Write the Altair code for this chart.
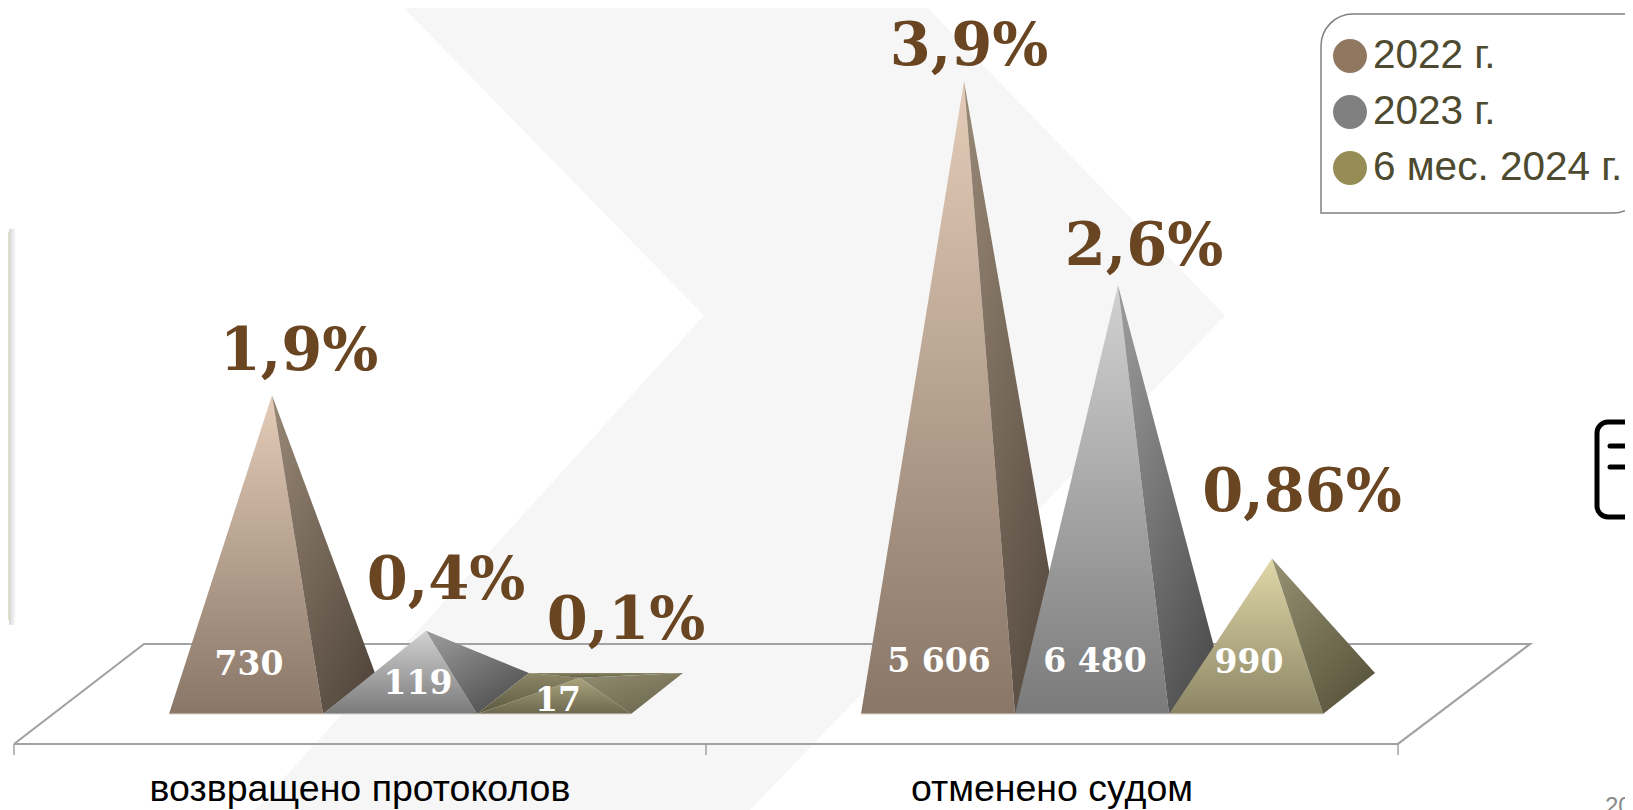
import altair as alt
import pandas as pd

# ---- data
categories = ["возвращено протоколов", "отменено судом"]
series = ["2022 г.", "2023 г.", "6 мес. 2024 г."]
percent_by_category = [[1.9, 0.4, 0.1], [3.9, 2.6, 0.86]]
percent_labels = [["1,9%", "0,4%", "0,1%"], ["3,9%", "2,6%", "0,86%"]]
count_labels = [["730", "119", "17"], ["5 606", "6 480", "990"]]
page_number = "20"

# ---- styling / layout
W, H = 1617, 802
PX_PER_UNIT = 157
Y0 = 693.5
def Y(px):
    return (Y0 - px) / PX_PER_UNIT

xs = alt.Scale(domain=[8, 1625], nice=False, zero=False)
ys = alt.Scale(domain=[Y(810), Y(8)], nice=False, zero=False)
X_ = lambda f="x": alt.X(f"{f}:Q", scale=xs, axis=None, title=None)
Y_ = lambda f="y": alt.Y(f"{f}:Q", scale=ys, axis=None, title=None)

group_left = [169, 861]
pyr_w = 154
dep_x, dep_y = 52, 20.5 / PX_PER_UNIT
pct_col = "#694522"

left_cols = {0: ("#e4ccb8", "#897667"), 1: ("#d2d2d2", "#7a7a7a"), 2: ("#e0d8a8", "#8b8565")}
right_cols = {0: ("#948472", "#52463c"), 1: ("#989898", "#4a4a4a"), 2: ("#928d6e", "#56523a")}
flat_left = ("#aaa47e", "#6c684e")
flat_right = ("#8f8a6c", "#6a664e")
flat_back = ("#8c8766", "#5c5840")

def grad(cols, diag=False):
    return alt.Gradient(
        gradient="linear",
        stops=[alt.GradientStop(color=cols[0], offset=0), alt.GradientStop(color=cols[1], offset=1)],
        x1=0.15 if diag else 0, y1=0, x2=0.85 if diag else 0, y2=1,
    )

def tri_rows(a, b, c):
    p = sorted([a, b, c])
    (x0, y0), (x1, y1), (x2, y2) = p
    on_long = y0 + (y2 - y0) * (x1 - x0) / (x2 - x0)
    return pd.DataFrame({"x": [x0, x1, x2], "y": [y0, y1, y2], "y2": [y0, on_long, y2]})

def face(a, b, c, cols, diag=False):
    return alt.Chart(tri_rows(a, b, c)).mark_area(color=grad(cols, diag), clip=True, interpolate="linear").encode(
        x=X_(), y=Y_(), y2=alt.Y2("y2:Q"))

layers = []

# background chevron band
chev = pd.DataFrame({"y": [Y(0), Y(315.5), Y(810)], "xa": [396, 704, 255], "xb": [920, 1225, 750]})
layers.append(alt.Chart(chev).mark_area(color="#f6f6f6", orient="horizontal", clip=True).encode(
    y=Y_(), x=X_("xa"), x2=alt.X2("xb:Q")))

# left decorative bar
bar_t, bar_b = Y(232), Y(620)
shadow = alt.Gradient(gradient="linear", x1=0, y1=0, x2=1, y2=0,
                      stops=[alt.GradientStop(color="#d4d4d4", offset=0), alt.GradientStop(color="#ffffff", offset=1)])
layers.append(alt.Chart(pd.DataFrame({"x": [9], "x2": [16], "y": [bar_t + 0.02], "y2": [bar_b - 0.03]})).mark_rect(color=shadow, clip=True).encode(
    x=X_(), x2="x2:Q", y=Y_(), y2="y2:Q"))
layers.append(alt.Chart(pd.DataFrame({"x": [8], "x2": [9.5], "y": [bar_t], "y2": [bar_b]})).mark_rect(color="#dfe0c8", clip=True).encode(
    x=X_(), x2="x2:Q", y=Y_(), y2="y2:Q"))

# floor
floor = pd.DataFrame({"x": [14, 144, 1530, 1398, 14], "y": [Y(744), Y(644), Y(644), Y(744), Y(744)], "i": range(5)})
layers.append(alt.Chart(floor).mark_line(color="#a2a2a2", strokeWidth=2.2, clip=True).encode(x=X_(), y=Y_(), order="i:Q"))
ticks = pd.DataFrame({"x": [14, 706, 1398], "y": [Y(744)] * 3, "y2": [Y(755)] * 3})
layers.append(alt.Chart(ticks).mark_rule(color="#a2a2a2", strokeWidth=1.5).encode(x=X_(), y=Y_(), y2="y2:Q"))

# pyramids
for g, vals in enumerate(percent_by_category):
    for s, v in enumerate(vals):
        L = group_left[g] + s * pyr_w
        R = L + pyr_w
        fy = -dep_y
        by = dep_y
        ax = L + (pyr_w + dep_x) / 2
        apex = (ax, v)
        flat = v < 2 * dep_y  # so flat that the back faces show
        if flat:
            layers.append(face((L, fy), (L + dep_x, by), apex, flat_back))
            layers.append(face((L + dep_x, by), (R + dep_x, by), apex, flat_back))
        layers.append(face((L, fy), apex, (R, fy), flat_left if flat else left_cols[s]))
        layers.append(face(apex, (R, fy), (R + dep_x, by), flat_right if flat else right_cols[s], True))
    base = pd.DataFrame({"x": [group_left[g]], "x2": [group_left[g] + 3 * pyr_w], "y": [-dep_y]})
    layers.append(alt.Chart(base).mark_rule(color="#dcd8d0", strokeWidth=1).encode(x=X_(), x2="x2:Q", y=Y_()))

# labels
pct_pos = [[(299, 352), (446, 581), (626, 621)], [(969, 47), (1144, 247), (1302, 493)]]
cnt_pos = [[(249, 665), (418, 684), (558, 701)], [(939, 662), (1095, 662), (1249, 663)]]
pct_rows, cnt_rows = [], []
for g in range(2):
    for s in range(3):
        pct_rows.append({"x": pct_pos[g][s][0], "y": Y(pct_pos[g][s][1]), "t": percent_labels[g][s]})
        cnt_rows.append({"x": cnt_pos[g][s][0], "y": Y(cnt_pos[g][s][1]), "t": count_labels[g][s]})
layers.append(alt.Chart(pd.DataFrame(pct_rows)).mark_text(font="DejaVu Serif", fontWeight="bold", fontSize=59, color=pct_col, baseline="middle").encode(
    x=X_(), y=Y_(), text="t:N"))
layers.append(alt.Chart(pd.DataFrame(cnt_rows)).mark_text(font="DejaVu Serif", fontWeight="bold", fontSize=33, color="#ffffff", baseline="middle").encode(
    x=X_(), y=Y_(), text="t:N"))
cat = pd.DataFrame({"x": [360, 1052], "y": [Y(790)] * 2, "t": categories})
layers.append(alt.Chart(cat).mark_text(font="Liberation Sans", fontSize=37.5, color="#000000", baseline="middle").encode(
    x=X_(), y=Y_(), text="t:N"))

# legend box
box = pd.DataFrame({"x": [1321], "x2": [1645], "y": [Y(14)], "y2": [Y(213)]})
layers.append(alt.Chart(box).mark_rect(fill="#ffffff", stroke="#808080", strokeWidth=1.5,
                                      cornerRadiusTopLeft=32, cornerRadiusBottomRight=32, clip=True).encode(
    x=X_(), x2="x2:Q", y=Y_(), y2="y2:Q"))
leg = pd.DataFrame({"x": [1350] * 3, "tx": [1373] * 3, "y": [Y(56), Y(112), Y(168)], "t": series,
                    "c": ["#8f7760", "#808080", "#958d55"]})
layers.append(alt.Chart(leg).mark_point(filled=True, shape="circle", size=1156, opacity=1).encode(
    x=X_(), y=Y_(), color=alt.Color("c:N", scale=None)))
layers.append(alt.Chart(leg).mark_text(font="Liberation Sans", fontSize=40.5, color="#4d4a30", align="left", baseline="middle", clip=True).encode(
    x=X_("tx"), y=Y_(), text="t:N"))

# right document icon
icon = pd.DataFrame({"x": [1597], "x2": [1680], "y": [Y(422)], "y2": [Y(517)]})
layers.append(alt.Chart(icon).mark_rect(fill="#ffffff", stroke="#000000", strokeWidth=5, cornerRadius=11, clip=True).encode(
    x=X_(), x2="x2:Q", y=Y_(), y2="y2:Q"))
lines = pd.DataFrame({"x": [1610, 1610], "x2": [1640, 1640], "y": [Y(446), Y(467)]})
layers.append(alt.Chart(lines).mark_rule(color="#000000", strokeWidth=5, strokeCap="round", clip=True).encode(
    x=X_(), x2="x2:Q", y=Y_()))

# page number
num = pd.DataFrame({"x": [1605], "y": [Y(814)], "t": [page_number]})
layers.append(alt.Chart(num).mark_text(font="Liberation Sans", fontSize=24, color="#898989", align="left", baseline="alphabetic", clip=True).encode(
    x=X_(), y=Y_(), text="t:N"))

chart = alt.layer(*layers).properties(
    width=W, height=H, padding=0, autosize=alt.AutoSizeParams(type="none"), background="#ffffff"
).configure_view(stroke=None)

chart.save("out.html", embed_options={"renderer": "svg", "actions": False})
